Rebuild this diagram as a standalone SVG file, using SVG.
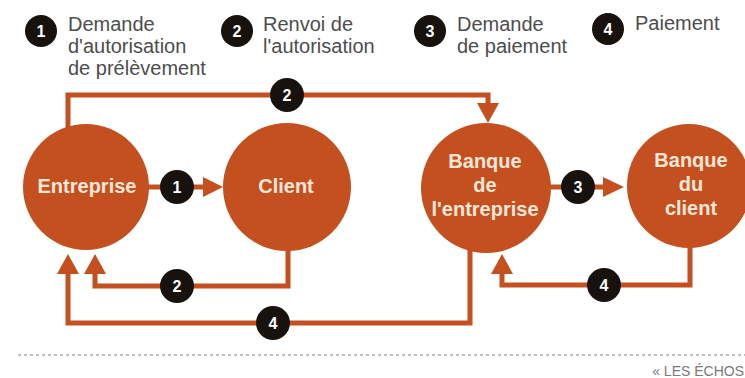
<svg xmlns="http://www.w3.org/2000/svg" width="745" height="378" viewBox="0 0 745 378">
  <style>
    .node { fill: #c4501f; }
    .label { font-family: "Liberation Sans", Arial, sans-serif; font-weight: bold; font-size: 20px; fill: #fbe7d8; text-anchor: middle; }
    .legend { font-family: "Liberation Sans", Arial, sans-serif; font-size: 20px; fill: #4d4d4d; }
    .badge { fill: #17120e; }
    .num { font-family: "Liberation Sans", Arial, sans-serif; font-weight: bold; font-size: 16px; fill: #ffffff; text-anchor: middle; }
    .wire { fill: none; stroke: #c4501f; stroke-width: 5; }
    .head { fill: #c4501f; }
    .credit { font-family: "Liberation Sans", Arial, sans-serif; font-size: 14px; fill: #7a7a7a; text-anchor: end; }
  </style>
  <defs>
    <g id="badge-shape"><circle r="17" class="badge"/></g>
  </defs>

  <!-- legend -->
  <g id="legend">
    <g id="legend-1">
      <circle cx="41" cy="31" r="16" class="badge"/>
      <text x="41" y="37" class="num">1</text>
      <text class="legend"><tspan x="68" y="31">Demande</tspan><tspan x="68" y="53">d'autorisation</tspan><tspan x="68" y="75">de prélèvement</tspan></text>
    </g>
    <g id="legend-2">
      <circle cx="237" cy="31" r="16" class="badge"/>
      <text x="237" y="37" class="num">2</text>
      <text class="legend"><tspan x="263" y="31">Renvoi de</tspan><tspan x="263" y="53">l'autorisation</tspan></text>
    </g>
    <g id="legend-3">
      <circle cx="430" cy="31" r="16" class="badge"/>
      <text x="430" y="37" class="num">3</text>
      <text class="legend"><tspan x="457" y="31">Demande</tspan><tspan x="457" y="53">de paiement</tspan></text>
    </g>
    <g id="legend-4">
      <circle cx="608" cy="29" r="16" class="badge"/>
      <text x="608" y="35" class="num">4</text>
      <text class="legend"><tspan x="635" y="30">Paiement</tspan></text>
    </g>
  </g>

  <!-- connectors -->
  <g id="connectors">
    <!-- 2: entreprise to its bank (top) -->
    <polyline class="wire" points="68,135 68,95 488,95 488,106"/>
    <polygon class="head" points="477,103 499,103 488,123"/>
    <!-- 1: entreprise to client -->
    <line class="wire" x1="145" y1="187" x2="208" y2="187"/>
    <polygon class="head" points="203,177 203,197 223,187"/>
    <!-- 2: client back to entreprise -->
    <polyline class="wire" points="288,245 288,286 95,286 95,270"/>
    <polygon class="head" points="84,274 106,274 95,254"/>
    <!-- 4: entreprise bank to entreprise -->
    <polyline class="wire" points="470,245 470,323 68,323 68,270"/>
    <polygon class="head" points="57,274 79,274 68,254"/>
    <!-- 3: entreprise bank to client bank -->
    <line class="wire" x1="548" y1="187" x2="608" y2="187"/>
    <polygon class="head" points="603,177 603,197 624,187"/>
    <!-- 4: client bank to entreprise bank -->
    <polyline class="wire" points="690,240 690,285 502,285 502,270"/>
    <polygon class="head" points="491,274 513,274 502,254"/>

    <!-- step badges -->
    <g id="badge-top-2"><circle cx="287" cy="95" r="17" class="badge"/><text x="287" y="101" class="num">2</text></g>
    <g id="badge-1"><circle cx="177" cy="187" r="17" class="badge"/><text x="177" y="193" class="num">1</text></g>
    <g id="badge-low-2"><circle cx="177" cy="286" r="17" class="badge"/><text x="177" y="292" class="num">2</text></g>
    <g id="badge-low-4"><circle cx="273" cy="323" r="17" class="badge"/><text x="273" y="329" class="num">4</text></g>
    <g id="badge-3"><circle cx="578" cy="187" r="17" class="badge"/><text x="578" y="193" class="num">3</text></g>
    <g id="badge-right-4"><circle cx="604" cy="285" r="17" class="badge"/><text x="604" y="291" class="num">4</text></g>
  </g>

  <!-- nodes -->
  <g id="entreprise">
    <circle cx="86" cy="187" r="63" class="node"/>
    <text x="87" y="193" class="label">Entreprise</text>
  </g>
  <g id="client">
    <circle cx="287" cy="187" r="64" class="node"/>
    <text x="286" y="193" class="label">Client</text>
  </g>
  <g id="banque-entreprise">
    <circle cx="486" cy="188" r="65" class="node"/>
    <text class="label"><tspan x="485" y="168">Banque</tspan><tspan x="485" y="192">de</tspan><tspan x="485" y="216">l'entreprise</tspan></text>
  </g>
  <g id="banque-client">
    <circle cx="689" cy="186" r="62" class="node"/>
    <text class="label"><tspan x="691" y="167">Banque</tspan><tspan x="691" y="191">du</tspan><tspan x="691" y="215">client</tspan></text>
  </g>

  <!-- footer -->
  <line x1="18" y1="355" x2="745" y2="355" stroke="#bdbdbd" stroke-width="2" stroke-dasharray="3 3"/>
  <text x="744" y="376" class="credit">« LES ÉCHOS</text>
</svg>
